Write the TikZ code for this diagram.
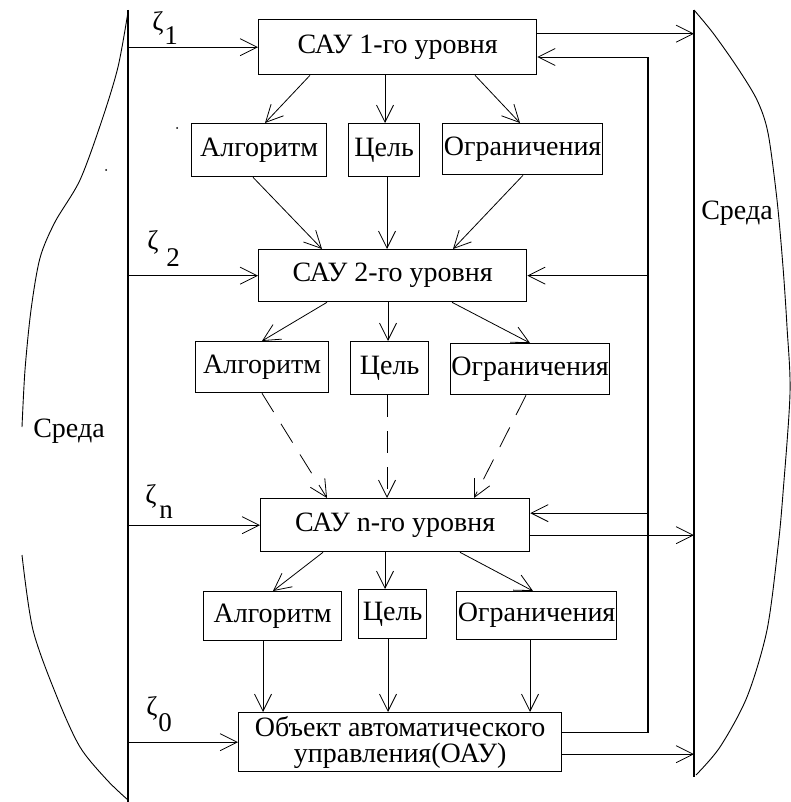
\documentclass[tikz,border=0pt]{standalone}
\usepackage{fontspec}
\setmainfont{Liberation Serif}
\newfontfamily\rusfont{Liberation Serif}
\usetikzlibrary{arrows.meta,calc}
\begin{document}
\begin{tikzpicture}[x=1pt,y=-1pt,
  box/.style={draw, line width=1.3pt, inner sep=0pt, anchor=north west, font=\rusfont\fontsize{28}{30}\selectfont, align=center},
  arr/.style={line width=0.8pt, -{Straight Barb[length=17pt,width=17pt,line width=0.8pt]}},
  darr/.style={arr, dash pattern=on 22pt off 14pt},
  fbline/.style={line width=1.3pt},
  envline/.style={line width=1.4pt},
  envcurve/.style={line width=0.9pt},
  lbl/.style={font=\rusfont\fontsize{28}{30}\selectfont, inner sep=0pt},
  zl/.style={font=\rusfont\fontsize{27}{29}\selectfont, inner sep=0pt}]
\useasboundingbox (0,0) rectangle (791,802);

% environment lines
\coordinate (lt) at (128,10);
\coordinate (lb) at (128,802);
\coordinate (rt) at (694,10);
\coordinate (rb) at (694,777);
\coordinate (fbt) at (648,57);
\coordinate (fbb) at (648,732);
\draw[envline] (lt) -- (lb);
\draw[envline] (rt) -- (rb);

% left environment curve
\draw[envcurve] plot[smooth] coordinates {(128,12) (118,67) (102,120) (80,180) (55,222) (40,258) (31,310) (25,370) (22,427)};
\draw[envcurve] plot[smooth] coordinates {(22,555) (33,630) (57,697) (80,747) (107,780) (128,800)};
% right environment curve
\draw[envcurve] plot[smooth] coordinates {(694,10) (713,33) (737,67) (757,100) (768,133) (777,200) (783,267) (787,327) (790,393) (783,493) (778,547) (767,630) (747,697) (720,747) (696,775)};

\node[lbl] (envl) at (69,431) {Среда};
\node[lbl] (envr) at (737,213) {Среда};

% boxes
\node[box, minimum width=278pt, minimum height=55pt] (s1) at (258,19) {САУ 1-го уровня};
\node[box, minimum width=135pt, minimum height=53pt] (a1) at (191,123) {Алгоритм};
\node[box, minimum width=71pt, minimum height=53pt] (g1) at (348,123) {Цель};
\node[box, minimum width=160pt, minimum height=51pt] (o1) at (442,123) {Ограничения};

\node[box, minimum width=268pt, minimum height=52pt] (s2) at (258,249) {САУ 2-го уровня};
\node[box, minimum width=133pt, minimum height=51pt] (a2) at (195,341) {Алгоритм};
\node[box, minimum width=78pt, minimum height=53pt] (g2) at (350,341) {Цель};
\node[box, minimum width=159pt, minimum height=51pt] (o2) at (450,343) {Ограничения};

\node[box, minimum width=269pt, minimum height=53pt] (s3) at (260,498) {САУ n-го уровня};
\node[box, minimum width=138pt, minimum height=49pt] (a3) at (203,591) {Алгоритм};
\node[box, minimum width=68pt, minimum height=49pt] (g3) at (358,589) {Цель};
\node[box, minimum width=160pt, minimum height=48pt] (o3) at (456,591) {Ограничения};

\node[box, minimum width=323pt, minimum height=59pt, font=\rusfont\fontsize{28}{26}\selectfont] (s4) at (238,712) {Объект автоматического\\управления(ОАУ)};

% disturbance labels
\node[zl] (z1) at (158,23) {ζ};
\node[zl] (z1i) at (171,36) {1};
\node[zl] (z2) at (153,242) {ζ};
\node[zl] (z2i) at (173,258) {2};
\node[zl] (zn) at (151,496) {ζ};
\node[zl] (zni) at (166,512) {n};
\node[zl] (z0) at (152,708) {ζ};
\node[zl] (z0i) at (165,723) {0};

% inputs from environment
\draw[arr] (lt |- s1.west) -- (s1.west);
\draw[arr] (lt |- s2.west) -- (s2.west);
\draw[arr] (lt |- s3.west) -- (s3.west);
\draw[arr] (lt |- s4.west) -- (s4.west);

% level 1 -> blocks
\draw[arr] ([xshift=52pt]s1.south west) -- ([xshift=74pt]a1.north west);
\draw[arr] ([xshift=37pt]g1.north west |- s1.south) -- ([xshift=37pt]g1.north west);
\draw[arr] ([xshift=217pt]s1.south west) -- ([xshift=78pt]o1.north west);
% blocks -> level 2
\draw[arr] ([xshift=62pt]a1.south west) -- ([xshift=64pt]s2.north west);
\draw[arr] ([xshift=39pt]g1.south west) -- ([xshift=39pt]g1.south west |- s2.north);
\draw[arr] ([xshift=81pt]o1.south west) -- ([xshift=195pt]s2.north west);
% level 2 -> blocks
\draw[arr] ([xshift=69pt]s2.south west) -- ([xshift=67pt]a2.north west);
\draw[arr] ([xshift=38pt]g2.north west |- s2.south) -- ([xshift=38pt]g2.north west);
\draw[arr] ([xshift=194pt]s2.south west) -- ([xshift=80pt]o2.north west);
% blocks -> level n (dashed)
\draw[darr] ([xshift=67pt]a2.south west) -- ([xshift=67pt]s3.north west);
\draw[darr] ([xshift=37pt]g2.south west) -- ([xshift=37pt]g2.south west |- s3.north);
\draw[darr] ([xshift=76pt]o2.south west) -- ([xshift=214pt]s3.north west);
% level n -> blocks
\draw[arr] ([xshift=63pt]s3.south west) -- ([xshift=70pt]a3.north west);
\draw[arr] ([xshift=27pt]g3.north west |- s3.south) -- ([xshift=27pt]g3.north west);
\draw[arr] ([xshift=200pt]s3.south west) -- ([xshift=77pt]o3.north west);
% blocks -> object
\draw[arr] ([xshift=60pt]a3.south west) -- ([xshift=60pt]a3.south west |- s4.north);
\draw[arr] ([xshift=30pt]g3.south west) -- ([xshift=30pt]g3.south west |- s4.north);
\draw[arr] ([xshift=74pt]o3.south west) -- ([xshift=74pt]o3.south west |- s4.north);

% outputs to environment
\draw[arr] ([yshift=13.5pt]s1.east) -- ([yshift=13.5pt]s1.east -| rt);
\draw[arr] ([yshift=-10pt]s3.east) -- ([yshift=-10pt]s3.east -| rt);
\draw[arr] ([yshift=-12pt]s4.east) -- ([yshift=-12pt]s4.east -| rt);

% feedback
\draw[fbline] ([yshift=10pt]s4.east) -- ([yshift=10pt]s4.east -| fbb) -- (fbt);
\draw[arr] (fbt) -- (fbt -| s1.east);
\draw[arr] (fbt |- s2.east) -- (s2.east);
\draw[arr] ([yshift=12pt]s3.east -| fbt) -- ([yshift=12pt]s3.east);

% specks
\fill (177,128) circle (1pt);
\fill (106,170) circle (1pt);
\end{tikzpicture}
\end{document}
